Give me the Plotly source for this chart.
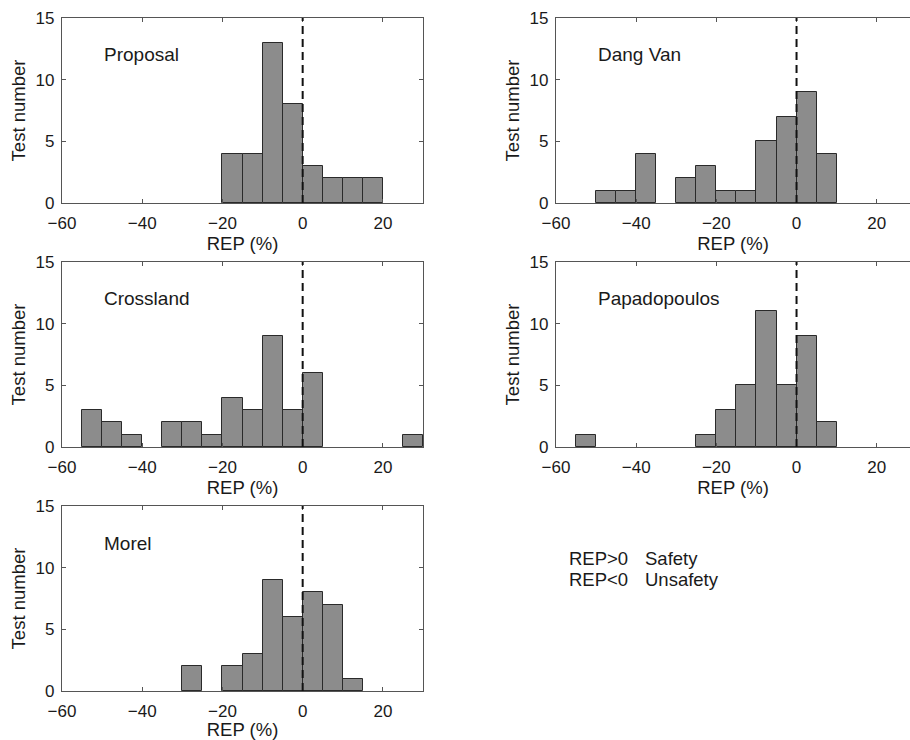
import plotly.graph_objects as go

# ---- data ----
BIN_LEFT = [-55, -50, -45, -40, -35, -30, -25, -20, -15, -10, -5, 0, 5, 10, 15, 20, 25]
BIN_WIDTH = 5
PROPOSAL = [0, 0, 0, 0, 0, 0, 0, 4, 4, 13, 8, 3, 2, 2, 2, 0, 0]
DANG_VAN = [0, 1, 1, 4, 0, 2, 3, 1, 1, 5, 7, 9, 4, 0, 0, 0, 0]
CROSSLAND = [3, 2, 1, 0, 2, 2, 1, 4, 3, 9, 3, 6, 0, 0, 0, 0, 1]
PAPADOPOULOS = [1, 0, 0, 0, 0, 0, 1, 3, 5, 11, 5, 9, 2, 0, 0, 0, 0]
MOREL = [0, 0, 0, 0, 0, 2, 0, 2, 3, 9, 6, 8, 7, 1, 0, 0, 0]
X_TICKS = [-60, -40, -20, 0, 20]
Y_TICKS = [0, 5, 10, 15]
REF_X = 0
Y_MAX = 15

panels = [
    ("Proposal", PROPOSAL),
    ("Dang Van", DANG_VAN),
    ("Crossland", CROSSLAND),
    ("Papadopoulos", PAPADOPOULOS),
    ("Morel", MOREL),
]

W, H = 910, 740
FONT = "Liberation Sans, Arial, Helvetica, sans-serif"
TXT = "#1a1a1a"
AX = "#555555"

col_px = [(62, 423, [-60, 30]), (556, 910, [-60, 28.3])]
row_px = [(18, 203), (262, 447), (506, 691)]

fig = go.Figure()
layout = dict(
    width=W, height=H, autosize=False,
    margin=dict(l=0, r=0, t=0, b=0, autoexpand=False),
    paper_bgcolor="white", plot_bgcolor="white",
    showlegend=False, font=dict(family=FONT, color=TXT),
    bargap=0, annotations=[], shapes=[],
)

for i, (name, counts) in enumerate(panels):
    r, c = divmod(i, 2)
    x0p, x1p, xr = col_px[c]
    y0p, y1p = row_px[r]
    k = i + 1
    xa = "xaxis" if k == 1 else f"xaxis{k}"
    ya = "yaxis" if k == 1 else f"yaxis{k}"
    xref = "x" if k == 1 else f"x{k}"
    yref = "y" if k == 1 else f"y{k}"

    xs = [b + BIN_WIDTH / 2 for b, v in zip(BIN_LEFT, counts) if v > 0]
    ys = [v for v in counts if v > 0]
    fig.add_trace(go.Bar(
        x=xs, y=ys, width=BIN_WIDTH, xaxis=xref, yaxis=yref,
        marker=dict(color="#8c8c8c", line=dict(color="#2a2a2a", width=1)),
        hoverinfo="x+y",
    ))

    layout[xa] = dict(
        domain=[x0p / W, x1p / W], range=xr, anchor=yref, automargin=False,
        tickvals=X_TICKS, ticks="inside", ticklen=4, tickcolor=AX,
        showline=True, linecolor=AX, linewidth=1.3, mirror="ticks",
        showgrid=False, zeroline=False, ticklabelstandoff=4,
        tickfont=dict(size=17, color=TXT),
        title=dict(text="REP (%)", font=dict(size=18.5, color=TXT), standoff=2),
    )
    layout[ya] = dict(
        domain=[1 - y1p / H, 1 - y0p / H], range=[0, Y_MAX], anchor=xref,
        automargin=False,
        tickvals=Y_TICKS, ticks="inside", ticklen=4, tickcolor=AX,
        showline=True, linecolor=AX, linewidth=1.3,
        mirror=("ticks" if c == 0 else False),
        showgrid=False, zeroline=False, ticklabelstandoff=3,
        tickfont=dict(size=17, color=TXT),
        title=dict(text="Test number", font=dict(size=18.5, color=TXT), standoff=5),
    )
    layout["annotations"].append(dict(
        text=name, x=-50, y=12, xref=xref, yref=yref,
        xanchor="left", yanchor="middle", showarrow=False,
        font=dict(size=19, color=TXT),
    ))
    layout["shapes"].append(dict(
        type="line", xref=xref, yref=yref, x0=REF_X, x1=REF_X, y0=0, y1=Y_MAX,
        line=dict(color="#111111", width=2, dash="8px,5px"), layer="above",
    ))

notes = [("REP>0", "Safety", 558), ("REP<0", "Unsafety", 579)]
for a, b, yp in notes:
    for txt, xp in ((a, 567), (b, 643)):
        layout["annotations"].append(dict(
            text=txt, x=xp / W, y=1 - yp / H, xref="paper", yref="paper",
            xanchor="left", yanchor="middle", showarrow=False,
            font=dict(size=18.5, color=TXT),
        ))

fig.update_layout(**layout)
fig.write_html(
    "out.html",
    config={"displayModeBar": False},
    post_script="document.body.style.margin='0px';document.body.style.overflow='hidden';",
)
